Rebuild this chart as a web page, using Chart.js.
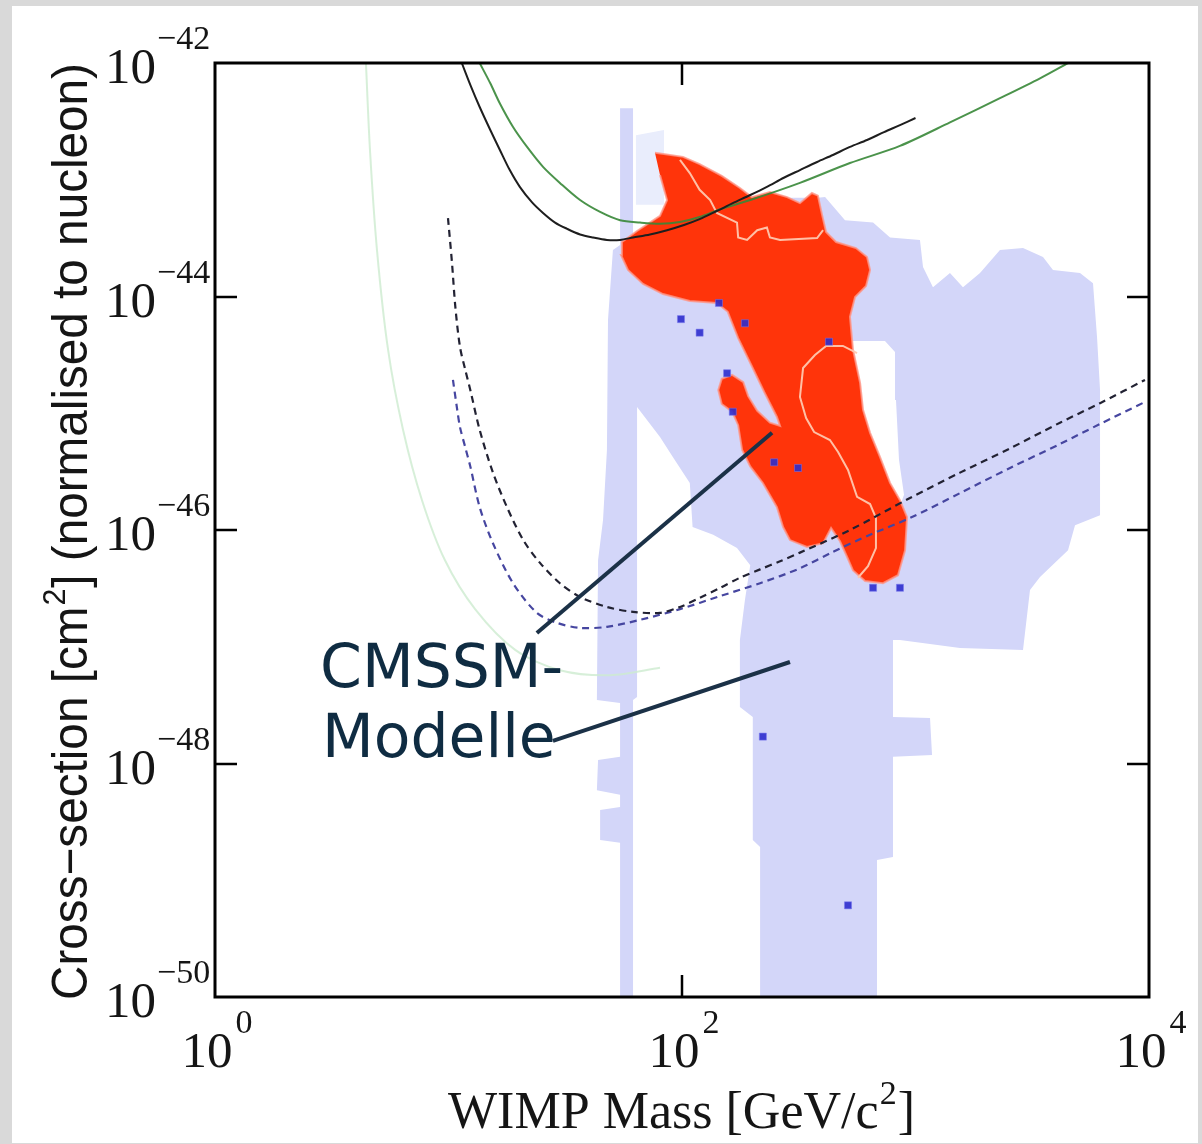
<!DOCTYPE html>
<html><head><meta charset="utf-8">
<script src="https://cdn.jsdelivr.net/npm/chart.js@4.4.1/dist/chart.umd.min.js"></script>
<style>
html,body{margin:0;padding:0;background:#d9d9d9;width:1202px;height:1144px;overflow:hidden;}
#panel{position:absolute;left:12px;top:6px;width:1186px;height:1137px;background:#fff;}
#c{position:absolute;left:0;top:0;}
</style></head><body>
<div id="panel"></div>
<canvas id="c" width="1202" height="1144"></canvas>
<script>
// ---- axis ticks / labels ----
const xTickValues = [1, 100, 10000];
const xTickExponents = ['0', '2', '4'];
const yTickValues = [1e-42, 1e-44, 1e-46, 1e-48, 1e-50];
const yTickExponents = ['\u221242', '\u221244', '\u221246', '\u221248', '\u221250'];
const xInnerTicks = [100];
const yInnerTicks = [1e-44, 1e-46, 1e-48];
const xTitle = ['WIMP Mass [GeV/c', '2', ']'];
const yTitle = ['Cross\u2212section [cm', '2', '] (normalised to nucleon)'];
const annotationText = ['CMSSM-', 'Modelle'];

// ---- data: [WIMP mass (GeV/c^2), cross-section (cm^2)] ----
const blueRegion = [
 [54.3,4.1e-43],[61.7,4.1e-43],[61.7,3.05e-44],[80.5,3.57e-44],[146,5.0e-44],[263,7.0e-44],
 [382,7.0e-44],[382,4.1e-45],[535,4.1e-45],[562,1.82e-45],[579,1.07e-45],[614,6.8e-46],[677,4.2e-46],
 [748,2.53e-46],[858,1.6e-46],[893,2.0e-46],[850,3.98e-46],[825,1.3e-45],[817,3.35e-45],[740,4.16e-45],
 [535,4.16e-45],[382,4.16e-45],[382,7.0e-44],
 [410,7.1e-44],[499,4.5e-44],[658,4.3e-44],[778,3.2e-44],[1045,3.05e-44],[1077,1.79e-44],[1188,1.2e-44],
 [1405,1.59e-44],[1597,1.2e-44],[1889,1.59e-44],[2300,2.5e-44],[2887,2.6e-44],[3516,2.18e-44],[3880,1.69e-44],
 [5064,1.59e-44],[5757,1.3e-44],[5990,4.5e-45],[6170,1.58e-45],[6170,1.34e-46],[4822,1.1e-46],[4500,6.7e-47],
 [3414,3.96e-47],[3093,3.06e-47],[2887,9.4e-48],[1551,9.76e-48],[858,1.14e-47],[801,1.14e-47],[801,2.5e-48],
 [1154,2.45e-48],[1177,1.18e-48],[801,1.14e-48],[801,1.58e-49],[684,1.49e-49],[684,1e-50],[216,1e-50],
 [216,1.93e-49],[201,2.21e-49],[201,2.5e-48],[177,3.05e-48],[177,1.14e-47],[186,2.51e-47],[196,5.0e-47],
 [172,7.0e-47],[136,9.1e-47],[111,1.06e-46],[108,2.53e-46],[91.5,4.2e-46],[80.5,6.26e-46],[64.2,1.13e-45],
 [64.2,3.71e-48],[61.7,3.5e-48],[61.7,1e-50],[54.3,1e-50],[54.3,2.09e-49],[44.6,2.21e-49],[44.6,4.0e-49],
 [54.3,4.24e-49],[54.3,5.4e-49],[43.2,5.9e-49],[43.7,1.07e-48],[54.3,1.14e-48],[54.3,3.3e-48],[43.2,3.5e-48],
 [43.7,5.5e-47],[45.9,1.22e-46],[47.7,4.84e-46],[48.2,6.3e-45],[50.6,2.5e-44],[54.3,2.76e-44]
];
const paleBluePatch = [[63.5,2.4e-43],[83.7,2.67e-43],[83.7,6.1e-44],[63.5,6.1e-44]];
const redRegion = [
 [76.6,1.7e-43],[101,1.57e-43],[119,1.36e-43],[148,1.08e-43],[177,8.5e-44],[199,7.1e-44],[238,7.85e-44],
 [282,7.1e-44],[320,6.3e-44],[360,7.7e-44],[382,7.3e-44],[398,5.0e-44],[414,3.57e-44],[457,2.93e-44],
 [556,2.6e-44],[620,2.18e-44],[639,1.69e-44],[614,1.23e-44],[551,9.9e-45],[524,6.7e-45],[540,3.5e-45],
 [579,1.82e-45],[596,1.07e-45],[639,6.8e-46],[705,4.2e-46],[778,2.53e-46],[858,1.8e-46],[920,1.29e-46],
 [902,6.7e-47],[841,4.1e-47],[726,3.5e-47],[608,3.66e-47],[540,4.5e-47],[509,5.9e-47],[475,8.0e-47],
 [435,1.04e-46],[402,7.7e-47],[343,7.15e-47],[290,8.2e-47],[271,1.06e-46],[255,1.57e-46],[222,2.53e-46],
 [196,3.5e-46],[181,4.84e-46],[174,7.9e-46],[164,1.03e-45],[148,1.2e-45],[143,1.58e-45],[148,1.97e-45],
 [164,2.13e-45],[183,1.85e-45],[192,1.4e-45],[210,1.05e-45],[238,8.3e-46],[263,7.8e-46],[255,9.3e-46],
 [225,1.52e-45],[198,2.59e-45],[174,4.4e-45],[157,7.4e-45],[141,8.8e-45],[108,9.15e-45],[82.9,1.05e-44],
 [68.1,1.28e-44],[58.7,1.69e-44],[54.8,2.27e-44],[55.3,2.93e-44],[64.2,3.64e-44],[80.5,4.9e-44],
 [86.3,6.7e-44],[80.5,1.1e-43]
];
const redContourA = [[98,1.48e-43],[108,1.14e-43],[119,8.2e-44],[132,6.7e-44],[141,5.2e-44],[172,4.3e-44],
 [174,3.2e-44],[190,3.05e-44],[210,3.7e-44],[231,3.9e-44],[238,3.2e-44],[263,3.05e-44],[379,3.17e-44],[402,3.7e-44]];
const redContourB = [[562,3.28e-45],[489,3.77e-45],[414,3.77e-45],[371,3.15e-45],[330,2.44e-45],[320,1.38e-45],
 [340,9.1e-46],[368,6.9e-46],[430,5.9e-46],[466,4.66e-46],[514,3.27e-46],[562,1.92e-46],[639,1.67e-46],
 [677,1.27e-46],[677,7.0e-47],[626,4.9e-47],[567,3.9e-47]];
const curveSolidBlack = [[11.4,1e-42],[12.4,6.5e-43],[13.6,4.2e-43],[15.1,2.67e-43],[16.6,1.8e-43],[18.3,1.21e-43],
 [20.2,8.7e-44],[22.8,6.4e-44],[25.4,5.2e-44],[28.6,4.3e-44],[32.2,3.8e-44],[36.6,3.4e-44],[41.6,3.2e-44],
 [47.7,3.05e-44],[54.3,3.05e-44],[61.7,3.2e-44],[72.9,3.4e-44],[86.3,3.7e-44],[102,4.1e-44],[119,4.6e-44],
 [141,5.4e-44],[165,6.3e-44],[196,7.4e-44],[231,8.7e-44],[273,1.04e-43],[320,1.21e-43],[379,1.42e-43],
 [443,1.63e-43],[524,1.91e-43],[620,2.19e-43],[733,2.56e-43],[858,2.94e-43],[1000,3.38e-43]];
const curveSolidGreen = [[13.6,1e-42],[15.1,6.7e-43],[16.6,4.5e-43],[18.9,2.83e-43],[21.7,1.91e-43],[25.4,1.29e-43],
 [30.0,9.4e-44],[36.6,6.7e-44],[44.6,5.3e-44],[54.3,4.5e-44],[66.1,4.3e-44],[80.5,4.2e-44],[98,4.35e-44],
 [119,4.8e-44],[146,5.6e-44],[196,6.7e-44],[320,9.4e-44],[524,1.39e-43],[858,1.95e-43],[1405,3.1e-43],
 [2300,5.0e-43],[3414,7.4e-43],[4500,1e-42]];
const curvePaleGreen = [[4.43,1e-42],[4.61,1.8e-43],[4.94,2.5e-44],[5.51,3.5e-45],[6.39,7.2e-46],[7.70,1.8e-46],
 [9.66,5.5e-47],[13.0,2.1e-47],[19.3,9.4e-48],[30.0,6.3e-48],[49.2,5.7e-48],[80.5,6.6e-48]];
const curveDashedBlack = [[9.95,4.7e-44],[10.35,1.94e-44],[10.7,8.1e-45],[11.2,3.7e-45],[11.8,2.35e-45],[12.4,1.58e-45],
 [13.6,7.2e-46],[15.5,3.1e-46],[17.8,1.57e-46],[20.9,8.2e-47],[24.7,5.2e-47],[30.0,3.5e-47],[36.6,2.67e-47],
 [47.7,2.19e-47],[61.7,1.99e-47],[80.5,1.95e-47],[98,2.19e-47],[119,2.62e-47],[146,3.2e-47],[177,3.9e-47],
 [216,4.6e-47],[263,5.4e-47],[320,6.4e-47],[524,1e-46],[947,1.88e-46],[1551,3.1e-46],[2540,5.0e-46],
 [4157,8.3e-46],[6170,1.22e-45],[9610,1.93e-45]];
const curveDashedBlue = [[10.45,1.93e-45],[10.9,1.07e-45],[11.2,7.6e-46],[11.8,5.1e-46],[12.4,3.5e-46],[13.6,1.57e-46],
 [15.5,7.7e-47],[18.9,3.5e-47],[23.9,1.95e-47],[29.2,1.6e-47],[36.6,1.45e-47],[47.7,1.48e-47],[66.1,1.7e-47],
 [98,2.1e-47],[146,2.72e-47],[216,3.5e-47],[320,4.7e-47],[443,6.5e-47],[639,9.1e-47],[966,1.29e-46],
 [1551,2.07e-46],[2540,3.4e-46],[4157,5.45e-46],[6170,8.1e-46],[9610,1.25e-45]];
const modelPoints = [[99,6.4e-45],[119,4.9e-45],[144,8.8e-45],[186,5.9e-45],[156,2.2e-45],[165,1.03e-45],
 [248,3.8e-46],[314,3.4e-46],[426,4.1e-45],[658,3.2e-47],[858,3.2e-47],[222,1.7e-48],[514,6.1e-50]];
const annotLine1 = [[23.9,1.31e-47],[243,6.8e-46]];
const annotLine2 = [[28.0,1.56e-48],[290,7.4e-48]];

const pts = a => a.map(([x, y]) => ({x, y}));
const line = (data, color, width, extra) => Object.assign({
  data: pts(data), showLine: true, pointRadius: 0, pointHoverRadius: 0, fill: false,
  borderColor: color, borderWidth: width, tension: 0
}, extra || {});
const region = (data, color, border, bw, order) => ({
  data: pts(data), showLine: true, pointRadius: 0, pointHoverRadius: 0, fill: 'shape',
  backgroundColor: color, borderColor: border, borderWidth: bw, tension: 0, order
});

const decor = {
  id: 'decor',
  afterDatasetsDraw(chart) {
    const ctx = chart.ctx, a = chart.chartArea;
    ctx.save();
    ctx.fillStyle = '#0f2c42';
    ctx.font = '60px "DejaVu Sans", sans-serif';
    ctx.textAlign = 'left'; ctx.textBaseline = 'alphabetic';
    ctx.fillText(annotationText[0], a.left + 105, a.top + 624);
    ctx.fillText(annotationText[1], a.left + 107, a.top + 694);
    ctx.restore();
  },
  afterDraw(chart) {
    const ctx = chart.ctx, a = chart.chartArea, x = chart.scales.x, y = chart.scales.y;
    ctx.save();
    ctx.strokeStyle = '#000'; ctx.lineWidth = 3;
    ctx.strokeRect(a.left, a.top, a.right - a.left, a.bottom - a.top);
    ctx.lineWidth = 2.5;
    ctx.beginPath();
    yInnerTicks.forEach(v => { const py = Math.round(y.getPixelForValue(v));
      ctx.moveTo(a.left, py); ctx.lineTo(a.left + 22, py);
      ctx.moveTo(a.right, py); ctx.lineTo(a.right - 22, py); });
    xInnerTicks.forEach(v => { const px = Math.round(x.getPixelForValue(v));
      ctx.moveTo(px, a.top); ctx.lineTo(px, a.top + 22);
      ctx.moveTo(px, a.bottom); ctx.lineTo(px, a.bottom - 22); });
    ctx.stroke();

    const big = '51px "Liberation Serif", "Times New Roman", serif';
    const small = '34px "Liberation Serif", "Times New Roman", serif';
    ctx.fillStyle = '#151515'; ctx.textBaseline = 'alphabetic';
    yTickValues.forEach((v, i) => {
      const py = y.getPixelForValue(v);
      ctx.font = big; ctx.textAlign = 'right';
      ctx.fillText('10', a.left - 59, py + 20);
      ctx.font = small; ctx.textAlign = 'left';
      ctx.fillText(yTickExponents[i], a.left - 58, py - 14);
    });
    xTickValues.forEach((v, i) => {
      const px = x.getPixelForValue(v);
      ctx.font = big; const w1 = ctx.measureText('10').width;
      ctx.font = small; const w2 = ctx.measureText(xTickExponents[i]).width;
      const s = px - (w1 + 3 + w2) / 2 + 2;
      ctx.textAlign = 'left';
      ctx.font = big; ctx.fillText('10', s, a.bottom + 70);
      ctx.font = small; ctx.fillText(xTickExponents[i], s + w1 + 3, a.bottom + 36);
    });

    // x title
    const tBig = '52px "Liberation Serif", "Times New Roman", serif';
    const tSup = '34px "Liberation Serif", "Times New Roman", serif';
    ctx.font = tBig; const xa = ctx.measureText(xTitle[0]).width, xc = ctx.measureText(xTitle[2]).width;
    ctx.font = tSup; const xb = ctx.measureText(xTitle[1]).width;
    const xs = 467 / (xa + xb + xc + 2);
    ctx.save();
    ctx.translate(448, 1128); ctx.scale(xs, 1);
    ctx.font = tBig; ctx.fillText(xTitle[0], 0, 0);
    ctx.font = tSup; ctx.fillText(xTitle[1], xa + 1, -24);
    ctx.font = tBig; ctx.fillText(xTitle[2], xa + xb + 2, 0);
    ctx.restore();

    // y title
    const yBig = '50px "Liberation Sans", Arial, sans-serif';
    const ySup = '32px "Liberation Sans", Arial, sans-serif';
    ctx.font = yBig; const ya = ctx.measureText(yTitle[0]).width, yc = ctx.measureText(yTitle[2]).width;
    ctx.font = ySup; const yb = ctx.measureText(yTitle[1]).width;
    const ys = 937 / (ya + yb + yc + 2);
    ctx.save();
    ctx.translate(87, 1000); ctx.rotate(-Math.PI / 2); ctx.scale(ys, 1);
    ctx.font = yBig; ctx.fillText(yTitle[0], 0, 0);
    ctx.font = ySup; ctx.fillText(yTitle[1], ya + 1, -22);
    ctx.font = yBig; ctx.fillText(yTitle[2], ya + yb + 2, 0);
    ctx.restore();
    ctx.restore();
  }
};

new Chart(document.getElementById('c'), {
  type: 'scatter',
  data: { datasets: [
    line(annotLine1, '#1b3147', 4, {order: 1}),
    line(annotLine2, '#1b3147', 4, {order: 1}),
    { data: pts(modelPoints), showLine: false, pointStyle: 'rect', pointRadius: 5,
      backgroundColor: 'rgba(45,45,205,0.9)', borderColor: 'rgba(120,120,240,0.5)', borderWidth: 1, order: 2 },
    line(curveSolidBlack, '#1e1e1e', 2, {tension: 0.3, order: 3}),
    line(curveSolidGreen, 'rgba(55,135,55,0.9)', 2, {tension: 0.3, order: 3}),
    line(curveDashedBlack, '#222233', 2.2, {tension: 0.3, borderDash: [7, 5], order: 4}),
    line(curveDashedBlue, '#4646a0', 2.2, {tension: 0.3, borderDash: [7, 5], order: 4}),
    line(curvePaleGreen, 'rgba(205,235,208,0.8)', 2, {tension: 0.3, order: 6}),
    line(redContourA, 'rgba(255,200,175,0.95)', 2, {order: 7}),
    line(redContourB, 'rgba(255,200,175,0.95)', 2, {order: 7}),
    region(redRegion, '#ff340a', 'rgba(255,150,135,0.8)', 2, 8),
    region(blueRegion, '#d3d6f9', 'rgba(0,0,0,0)', 1, 10),
    region(paleBluePatch, '#e9edfc', 'rgba(0,0,0,0)', 1, 11)
  ]},
  options: {
    responsive: false, animation: false, devicePixelRatio: 1, events: [],
    layout: { padding: { left: 215, top: 63, right: 53, bottom: 147 } },
    plugins: { legend: { display: false }, tooltip: { enabled: false } },
    scales: {
      x: { type: 'logarithmic', min: 1, max: 10000, display: false },
      y: { type: 'logarithmic', min: 1e-50, max: 1e-42, display: false }
    }
  },
  plugins: [decor]
});
</script>
</body></html>
